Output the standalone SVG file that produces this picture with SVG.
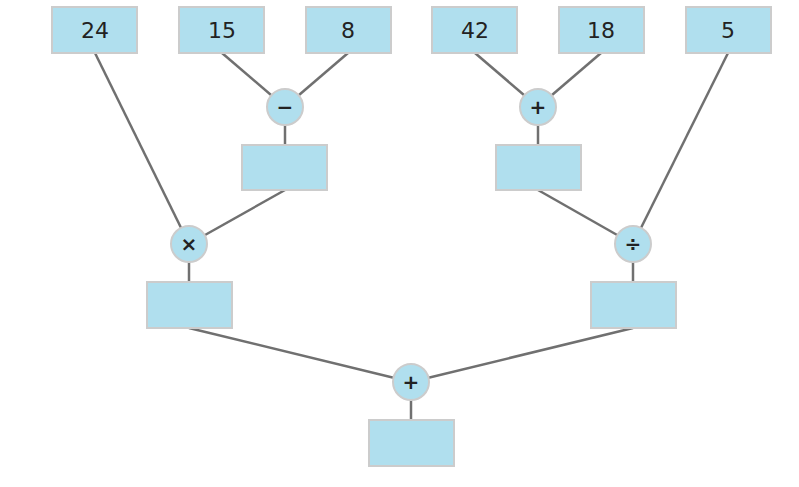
<svg xmlns="http://www.w3.org/2000/svg" width="799" height="487" viewBox="0 0 799 487">
<style>
.b{fill:#b0dfee;stroke:#cccccc;stroke-width:2}
.c{fill:#b0dfee;stroke:#cccccc;stroke-width:2}
.t{font-family:"DejaVu Sans",sans-serif;font-size:22px;fill:#222;text-anchor:middle}
.o{font-family:"DejaVu Sans",sans-serif;font-size:20px;font-weight:bold;fill:#222;text-anchor:middle}
#edges line{stroke:#707070;stroke-width:2.5}
</style>
<rect width="799" height="487" fill="#fff"/>
<g id="edges">
<line x1="95" y1="53" x2="189" y2="244"/>
<line x1="222" y1="53" x2="285" y2="107"/>
<line x1="348" y1="53" x2="285" y2="107"/>
<line x1="285" y1="107" x2="285" y2="145"/>
<line x1="285" y1="190" x2="189" y2="244"/>
<line x1="189" y1="244" x2="189" y2="282"/>
<line x1="475" y1="53" x2="538" y2="107"/>
<line x1="601" y1="53" x2="538" y2="107"/>
<line x1="538" y1="107" x2="538" y2="145"/>
<line x1="538" y1="190" x2="633" y2="244"/>
<line x1="728" y1="53" x2="633" y2="244"/>
<line x1="633" y1="244" x2="633" y2="282"/>
<line x1="189" y1="328" x2="411" y2="382"/>
<line x1="633" y1="328" x2="411" y2="382"/>
<line x1="411" y1="382" x2="411" y2="420"/>
</g>
<g id="n24"><rect class="b" x="52" y="7" width="85" height="46"/><text class="t" x="95" y="38">24</text></g>
<g id="n15"><rect class="b" x="179" y="7" width="85" height="46"/><text class="t" x="222" y="38">15</text></g>
<g id="n8"><rect class="b" x="306" y="7" width="85" height="46"/><text class="t" x="348" y="38">8</text></g>
<g id="n42"><rect class="b" x="432" y="7" width="85" height="46"/><text class="t" x="475" y="38">42</text></g>
<g id="n18"><rect class="b" x="559" y="7" width="85" height="46"/><text class="t" x="601" y="38">18</text></g>
<g id="n5"><rect class="b" x="686" y="7" width="85" height="46"/><text class="t" x="728" y="38">5</text></g>
<g id="minus"><circle class="c" cx="285" cy="107" r="18"/><text class="o" x="285" y="114">−</text></g>
<g id="plus1"><circle class="c" cx="538" cy="107" r="18"/><text class="o" x="538" y="114">+</text></g>
<g id="r1"><rect class="b" x="242" y="145" width="85" height="45"/></g>
<g id="r2"><rect class="b" x="496" y="145" width="85" height="45"/></g>
<g id="times"><circle class="c" cx="189" cy="244" r="18"/><text class="o" x="189" y="251">×</text></g>
<g id="div"><circle class="c" cx="633" cy="244" r="18"/><text class="o" x="633" y="251">÷</text></g>
<g id="r3"><rect class="b" x="147" y="282" width="85" height="46"/></g>
<g id="r4"><rect class="b" x="591" y="282" width="85" height="46"/></g>
<g id="plus2"><circle class="c" cx="411" cy="382" r="18"/><text class="o" x="411" y="389">+</text></g>
<g id="r5"><rect class="b" x="369" y="420" width="85" height="46"/></g>
</svg>
